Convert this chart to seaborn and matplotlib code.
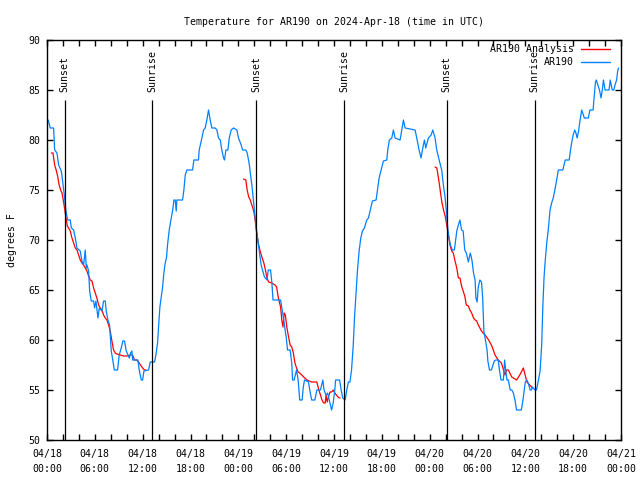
import pandas as pd
import matplotlib.pyplot as plt
import matplotlib.dates as mdates
from matplotlib.lines import Line2D
import seaborn as sns

# hours after 2024-04-18 00:00 UTC
obs_hours = [0.15, 0.41, 0.83, 0.96, 1.25, 1.46, 1.79, 1.96, 2.17, 2.29, 2.42, 2.59, 2.92, 3.05, 3.34,
             3.55, 3.76, 4.17, 4.38, 4.59, 4.8, 4.93, 5.01, 5.22, 5.35, 5.55, 5.85, 5.97, 6.14, 6.39,
             6.56, 6.89, 7.1, 7.31, 7.43, 7.64, 7.85, 8.06, 8.27, 8.44, 8.85, 9.06, 9.31, 9.52, 9.73,
             9.94, 10.15, 10.32, 10.48, 10.65, 10.74, 11.4, 11.57, 11.82, 11.99, 12.16, 12.74, 12.95,
             13.49, 13.66, 13.87, 13.99, 14.16, 14.33, 14.5, 14.66, 14.83, 15.0, 15.12, 15.33, 15.54,
             15.75, 15.92, 16.08, 16.21, 16.29, 17.0, 17.17, 17.34, 17.55, 18.26, 18.42, 19.0, 19.09,
             19.43, 19.64, 19.84, 20.05, 20.26, 20.47, 20.68, 21.1, 21.31, 21.52, 21.73, 21.93, 22.14,
             22.27, 22.44, 22.69, 22.86, 23.1, 23.4, 23.82, 24.02, 24.36, 24.53, 24.94, 25.11, 25.28,
             25.4, 25.53, 25.7, 25.86, 26.03, 26.2, 26.36, 26.53, 26.7, 26.86, 27.03, 27.28, 27.6,
             27.75, 28.04, 28.2, 28.35, 29.3, 29.5, 29.7, 29.9, 30.0, 30.17, 30.5, 30.7, 30.8, 31.0,
             31.3, 31.5, 31.7, 32.0, 32.15, 32.3, 32.8, 33.0, 33.2, 33.6, 33.85, 34.3, 34.45, 34.6,
             34.75, 35.0, 35.2, 35.5, 35.7, 35.9, 36.1, 36.2, 36.7, 36.9, 37.1, 37.4, 37.6, 37.8,
             38.0, 38.2, 38.4, 38.57, 38.78, 38.94, 39.15, 39.36, 39.57, 39.82, 40.11, 40.32, 40.53,
             40.82, 41.28, 41.49, 41.66, 41.91, 42.2, 42.62, 42.74, 42.95, 43.25, 43.45, 43.66, 44.29,
             44.5, 44.71, 44.92, 46.17, 46.38, 46.67, 46.92, 47.09, 47.34, 47.51, 47.84, 48.18, 48.39,
             48.68, 48.89, 49.22, 49.51, 49.72, 49.93, 50.14, 50.3, 50.43, 50.6, 50.85, 51.1, 51.4,
             51.6, 51.8, 52.0, 52.2, 52.4, 52.6, 52.85, 53.1, 53.3, 53.5, 53.7, 53.8, 53.95, 54.1,
             54.3, 54.5, 54.65, 54.8, 54.95, 55.2, 55.3, 55.5, 55.75, 55.9, 56.1, 56.3, 56.6, 56.75,
             56.95, 57.25, 57.4, 57.55, 57.7, 57.87, 58.1, 58.3, 58.5, 58.7, 58.9, 59.5, 59.7, 60.0,
             60.2, 60.4, 60.6, 60.75, 60.9, 61.2, 61.4, 61.6, 61.85, 62.05, 62.2, 62.35, 62.5, 62.7,
             62.9, 63.1, 63.3, 63.5, 63.7, 63.93, 64.14, 64.7, 64.85, 65.0, 65.5, 65.65, 65.85, 66.0,
             66.2, 66.35, 66.5, 66.68, 66.85, 67.07, 67.2, 67.4, 67.9, 68.1, 68.5, 68.6, 68.8, 68.9,
             69.1, 69.3, 69.5, 69.65, 69.8, 70.0, 70.5, 70.65, 70.9, 71.1, 71.25, 71.45, 71.6, 71.7]
obs_temps = [82.0, 81.2, 81.2, 79.0, 78.7, 77.5, 76.9, 75.9, 74.5, 73.5, 72.7, 72.0, 72.0, 71.2, 71.0,
             70.2, 69.2, 68.9, 67.9, 67.5, 69.0, 67.2, 67.5, 66.9, 64.9, 63.9, 63.9, 63.2, 63.9, 62.2,
             63.2, 62.9, 63.9, 63.9, 62.9, 62.0, 61.5, 58.9, 57.9, 57.0, 57.0, 58.5, 59.2, 59.9, 59.9,
             58.9, 58.5, 58.2, 58.7, 58.9, 58.0, 58.0, 57.0, 56.0, 56.0, 56.9, 57.0, 57.8,
             57.8, 58.5, 59.7, 61.3, 63.3, 64.3, 65.3, 66.7, 67.7, 68.3, 69.5, 71.0, 72.0,
             72.9, 74.0, 74.0, 72.9, 74.0, 74.0, 75.0, 76.5, 77.0, 77.0, 78.0, 78.0, 79.0,
             80.2, 81.0, 81.2, 82.0, 83.0, 82.0, 81.2, 81.2, 81.0, 80.2, 80.0, 79.0, 78.2,
             78.0, 79.0, 79.0, 80.2, 81.0, 81.2, 81.0, 80.2, 79.5, 79.0, 79.0, 78.7, 78.0,
             77.4, 76.5, 75.5, 74.2, 72.9, 71.5, 70.5, 69.5, 68.5, 67.5, 67.0, 66.3, 66.0,
             67.0, 67.0, 65.8, 64.0, 64.0, 63.0, 62.0, 60.8, 60.3, 59.0, 59.0, 57.7, 56.0, 56.0,
             57.0, 56.0, 54.0, 54.0, 55.3, 56.0, 55.8, 54.8, 54.0, 54.0, 55.0, 55.0, 55.5, 56.0,
             55.0, 54.5, 54.7, 53.7, 53.0, 53.7, 55.0, 56.0, 56.0, 55.0, 54.2, 54.0, 55.0, 55.8,
             55.8, 57.0, 59.3, 62.2, 64.9, 66.9, 68.9, 70.2, 70.9, 71.2, 72.0, 72.2, 72.9,
             73.9, 74.0, 75.2, 76.2, 77.0, 77.9, 78.0, 79.0, 80.0, 80.2, 81.0, 80.2, 80.0,
             81.0, 82.0, 81.2, 81.0, 80.2, 79.0, 78.2, 79.0, 80.0, 79.2, 80.2, 80.5, 81.0,
             80.2, 79.0, 77.9, 77.0, 75.5, 74.3, 72.5, 70.9, 70.2, 69.5, 69.0, 69.0, 70.9,
             71.5, 72.0, 71.0, 70.9, 69.0, 68.7, 67.8, 68.7, 68.0, 66.7, 66.0, 64.2, 63.8, 65.3,
             66.0, 65.8, 64.2, 60.9, 60.2, 59.0, 57.9, 57.0, 57.0, 57.4, 57.9, 58.0, 58.0, 57.0,
             56.0, 56.0, 58.0, 56.9, 56.0, 56.0, 55.0, 55.0, 54.7, 54.0, 53.0, 53.0, 54.0, 55.8,
             56.0, 55.6, 55.0, 55.0, 55.3, 55.0, 55.0, 55.8, 56.9, 59.5, 63.5, 66.3, 68.0, 69.8,
             71.2, 73.0, 73.7, 74.2, 75.0, 76.0, 77.0, 77.0, 77.5, 78.0, 78.0, 78.9, 79.9, 80.5,
             81.0, 80.7, 80.2, 80.9, 81.9, 83.0, 82.7, 82.2, 82.2, 83.0, 83.0, 84.0, 85.8, 86.0,
             85.5, 85.0, 84.2, 85.0, 86.0, 85.0, 85.0, 86.0, 85.0, 85.0, 85.5, 86.0, 87.0, 87.2]

# analysis curve, three evening/night pieces
ana_seg = [1] * 54 + [2] * 57 + [3] * 46
ana_hours = [0.54, 0.75, 0.96, 1.15, 1.33, 1.52, 1.71, 1.88, 2.04, 2.2, 2.38, 2.55, 2.71, 2.92, 3.13,
             3.34, 3.55, 3.76, 3.97, 4.17, 4.38, 4.59, 4.8, 5.01, 5.22, 5.43, 5.64, 5.85, 6.05, 6.26,
             6.47, 6.68, 6.89, 7.1, 7.31, 7.52, 7.73, 7.93, 8.14, 8.35, 8.56, 8.77, 9.19, 9.6, 10.02,
             10.44, 10.73, 10.98, 11.27, 11.57, 11.9, 12.1, 12.24, 12.4,
             24.65, 24.94, 25.11, 25.3, 25.5, 25.65, 25.82, 25.98, 26.15, 26.3, 26.5, 26.7, 26.95,
             27.2, 27.4, 27.6, 27.8, 28.2, 28.6, 28.8, 29.0, 29.3, 29.45, 29.6, 29.75, 29.9, 30.1,
             30.3, 30.5, 30.7, 30.9, 31.1, 31.3, 31.5, 31.7, 32.2, 32.6, 33.2, 33.85, 34.1, 34.3,
             34.5, 34.7, 34.9, 35.0, 35.15, 35.3, 35.5, 35.7, 35.9, 36.1, 36.3, 36.5, 36.7,
             36.72, 36.74, 36.76,
             48.68, 48.9, 49.1, 49.25, 49.4, 49.55, 49.77, 49.95, 50.14, 50.35, 50.55, 50.76, 50.97,
             51.18, 51.4, 51.6, 51.8, 52.0, 52.2, 52.4, 52.6, 52.85, 53.05, 53.27, 53.5, 53.7, 53.9,
             54.1, 54.3, 54.5, 54.7, 54.95, 55.4, 55.8, 56.2, 56.6, 57.0, 57.45, 57.65, 57.87, 58.3,
             58.9, 59.3, 59.75, 60.2, 60.9]
ana_temps = [78.7, 78.7, 77.5, 77.0, 76.4, 75.5, 75.0, 74.7, 74.0, 73.2, 72.2, 71.4, 71.2, 70.9, 70.2,
             69.7, 69.2, 69.0, 68.5, 68.0, 67.7, 67.5, 67.2, 66.9, 66.4, 66.0, 65.9, 65.2, 64.7, 64.2,
             63.5, 63.2, 63.0, 62.5, 62.2, 62.0, 61.5, 60.9, 59.9, 59.0, 58.7, 58.6, 58.5, 58.4, 58.4,
             58.5, 58.5, 58.0, 58.0, 57.7, 57.3, 57.1, 57.0, 57.0,
             76.1, 76.0, 75.0, 74.3, 74.0, 73.6, 73.2, 72.7, 71.7, 70.7, 69.7, 69.0, 68.3,
             67.7, 67.0, 66.2, 65.8, 65.7, 65.5, 65.3, 64.3, 63.3, 62.0, 61.3, 62.7, 62.5, 61.2,
             60.3, 59.5, 59.3, 58.7, 57.7, 57.2, 56.8, 56.7, 56.3, 56.0, 55.8, 55.8, 55.0, 54.5,
             54.0, 53.7, 53.7, 54.5, 53.8, 54.3, 54.8, 54.8, 55.0, 54.7, 54.5, 54.3, 54.2,
             54.2, 54.2, 54.2,
             77.3, 77.2, 76.2, 75.4, 74.5, 73.7, 72.9, 72.4, 71.5, 70.5, 69.5, 68.9, 68.7,
             67.9, 67.2, 66.2, 66.2, 65.4, 64.9, 64.4, 63.5, 63.4, 63.0, 62.7, 62.2, 62.0, 61.9,
             61.5, 61.2, 60.9, 60.7, 60.5, 60.0, 59.4, 58.5, 58.0, 57.7, 56.5, 57.0, 57.0, 56.3,
             56.0, 56.5, 57.2, 55.8, 55.2]

sun_hours = [2.2, 13.22, 26.27, 37.24, 50.13, 61.19]
sun_names = ['Sunset', 'Sunrise', 'Sunset', 'Sunrise', 'Sunset', 'Sunrise']

start = pd.Timestamp('2024-04-18 00:00')
obs = pd.DataFrame({'time': start + pd.to_timedelta(obs_hours, unit='h'), 'temp': obs_temps})
ana = pd.DataFrame({'time': start + pd.to_timedelta(ana_hours[:len(ana_seg)], unit='h'),
                    'temp': ana_temps[:len(ana_seg)], 'seg': ana_seg})

sns.set_style('ticks', {'axes.edgecolor': 'black', 'text.color': 'black', 'axes.labelcolor': 'black',
                        'xtick.color': 'black', 'ytick.color': 'black',
                        'xtick.direction': 'in', 'ytick.direction': 'in'})
plt.rcParams['font.family'] = 'DejaVu Sans Mono'
fs = 7.1

red = '#ff0000'
blue = '#0080ff'

fig = plt.figure(figsize=(6.4, 4.8), dpi=100)
ax = fig.add_axes([47 / 640, 40 / 480, 574 / 640, 400 / 480])

sns.lineplot(data=ana, x='time', y='temp', units='seg', estimator=None, color=red, lw=0.9, legend=False, ax=ax)
sns.lineplot(data=obs, x='time', y='temp', color=blue, lw=0.9, legend=False, ax=ax)

for h, name in zip(sun_hours, sun_names):
    t = mdates.date2num(start + pd.Timedelta(hours=h))
    ax.vlines(t, 50, 84, color='black', lw=0.9)
    ax.text(t, 84.8, name, rotation=90, ha='center', va='bottom', fontsize=fs)

ax.set_xlim(mdates.date2num(start), mdates.date2num(start + pd.Timedelta(hours=72)))
ax.set_ylim(50, 90)
ax.set_yticks(range(50, 91, 5))
ax.xaxis.set_major_locator(mdates.HourLocator(byhour=[0, 6, 12, 18]))
ax.xaxis.set_minor_locator(mdates.HourLocator(byhour=range(0, 24, 2)))
ax.xaxis.set_major_formatter(mdates.DateFormatter('%m/%d\n%H:%M'))
ax.tick_params(which='both', top=True, right=True, width=1, length=4.5, labelsize=fs)
ax.tick_params(axis='x', pad=6.5)
ax.tick_params(axis='y', pad=5)
for lab in ax.get_xticklabels():
    lab.set_linespacing(1.65)
for s in ax.spines.values():
    s.set_linewidth(1)

ax.set_xlabel('')
ax.set_ylabel('degrees F', fontsize=fs)
ax.yaxis.set_label_coords(-0.053, 0.5)
ax.set_title('Temperature for AR190 on 2024-Apr-18 (time in UTC)', fontsize=fs, pad=11)

handles = [Line2D([], [], color=red, lw=1), Line2D([], [], color=blue, lw=1)]
ax.legend(handles, ['AR190 Analysis', 'AR190'], loc='upper right', bbox_to_anchor=(0.981, 0.99),
          frameon=False, markerfirst=False, handlelength=2.9, handletextpad=0.8,
          labelspacing=0.3, borderpad=0, borderaxespad=0, fontsize=fs)

fig.savefig('out.png', dpi=100)
